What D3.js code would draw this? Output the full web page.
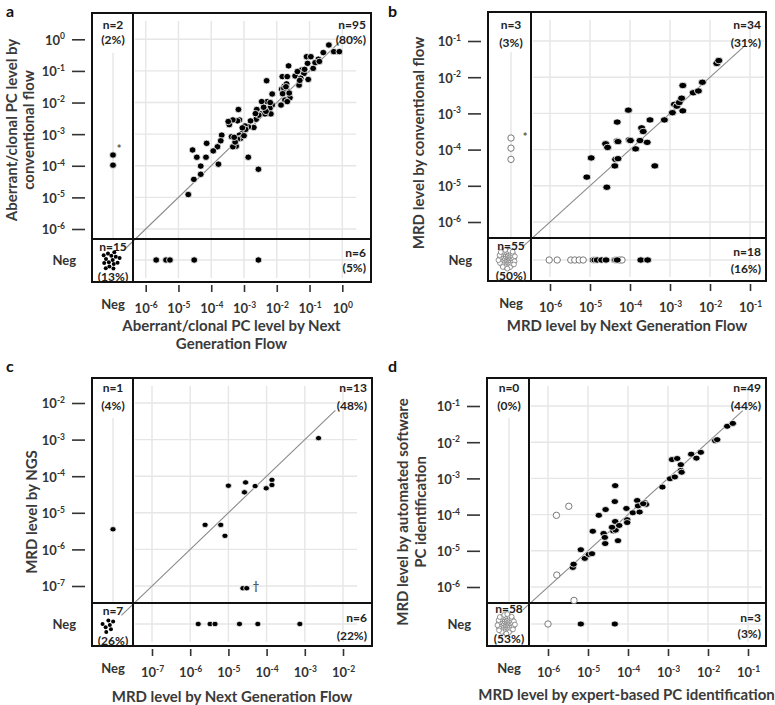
<!DOCTYPE html>
<html><head><meta charset="utf-8">
<script src="https://cdn.jsdelivr.net/npm/d3@7"></script>
<style>
body{margin:0;background:#fff}
svg{display:block}
text{font-family:Lato,"Open Sans",sans-serif}
</style>
</head><body>
<svg id="chart" width="775" height="705"></svg>
<script>
// ---- DATA (log10 values of MRD / PC level) ----
// Panel a
const aBoth = [[-0.41,-0.18],[-0.26,-0.39],[-0.09,-0.39],[-0.58,-0.42],[-0.73,-0.63],[-1.09,-0.55],[-0.96,-0.55],[-1.06,-0.76],[-0.83,-0.74],[-0.89,-0.92],[-1.04,-1.27],[-1.24,-0.97],[-1.17,-1.08],[-1.44,-1.16],[-1.32,-1.45],[-1.27,-1.23],[-1.37,-1.02],[-1.64,-0.84],[-1.83,-1.18],[-1.68,-1.18],[-1.77,-1.48],[-1.70,-1.41],[-1.85,-1.58],[-1.80,-1.66],[-1.68,-1.63],[-1.60,-1.85],[-1.75,-1.92],[-1.87,-2.08],[-1.68,-1.97],[-2.14,-1.73],[-2.31,-1.31],[-2.14,-2.08],[-2.21,-2.18],[-2.18,-2.36],[-2.36,-2.22],[-2.29,-1.97],[-2.46,-1.97],[-2.49,-2.36],[-2.36,-2.36],[-2.61,-2.22],[-2.63,-2.53],[-2.80,-2.58],[-2.70,-2.79],[-2.87,-2.77],[-2.97,-2.74],[-3.04,-2.96],[-3.14,-2.55],[-3.20,-2.58],[-3.34,-2.55],[-3.17,-2.22],[-3.14,-3.03],[-3.10,-3.13],[-3.20,-3.16],[-3.38,-3.08],[-3.24,-3.38],[-3.34,-3.40],[-3.68,-3.03],[-3.71,-3.21],[-3.81,-3.40],[-3.94,-3.53],[-4.14,-3.29],[-4.16,-3.73],[-2.87,-3.73],[-4.44,-3.73],[-4.57,-3.50],[-4.32,-4.01],[-3.78,-3.95],[-2.56,-4.11],[-4.53,-4.43],[-4.32,-4.27],[-4.70,-4.91],[-1.78,-1.55],[-1.72,-1.50],[-1.82,-1.72],[-1.62,-1.70],[-2.33,-2.28],[-2.40,-2.15],[-2.55,-2.40],[-2.95,-2.85],[-3.05,-2.80],[-3.27,-3.25],[-3.30,-3.10],[-3.45,-2.70],[-1.30,-1.30],[-1.15,-0.95],[-0.70,-0.70],[-2.20,-2.00],[-3.00,-3.05],[-2.65,-2.35],[-3.48,-2.60]];
const aNegColY = [-3.66,-3.98];
const aNegRowX = [-5.68,-5.38,-5.26,-4.52,-2.56];
const aNegNegCount = 15;
const aXTicks = [-6,-5,-4,-3,-2,-1,0];
const aYTicks = [0,-1,-2,-3,-4,-5,-6];
const aXTitle = ["Aberrant/clonal PC level by Next","Generation Flow"];
const aYTitle = ["Aberrant/clonal PC level by","conventional flow"];
const aCounts = ["n=2","(2%)","n=95","(80%)","n=15","(13%)","n=6","(5%)"];

// Panel b
const bBoth = [[-5.08,-4.76],[-4.97,-4.23],[-4.61,-3.84],[-4.58,-5.04],[-4.56,-3.94],[-4.38,-4.45],[-4.36,-4.27],[-4.32,-3.76],[-4.32,-3.24],[-4.30,-4.25],[-4.04,-2.91],[-4.02,-3.73],[-3.99,-3.75],[-3.86,-3.98],[-3.75,-3.75],[-3.71,-3.40],[-3.67,-3.50],[-3.57,-3.80],[-3.50,-3.18],[-3.38,-4.45],[-3.14,-3.18],[-2.94,-2.98],[-2.89,-2.75],[-2.83,-2.80],[-2.77,-2.70],[-2.71,-2.58],[-2.68,-2.93],[-2.68,-2.23],[-2.42,-2.43],[-2.29,-2.38],[-2.19,-2.14],[-1.83,-1.62],[-1.78,-1.54],[-4.30,-3.78]];
const bNegColOpenY = [-3.68,-3.96,-4.27];
const bNegRowX = [-4.92,-4.88,-4.82,-4.71,-4.60,-4.38,-4.36,-4.32,-3.73,-3.56];
const bNegRowOpenX = [-6.02,-5.82,-5.48,-5.38,-5.27,-5.17,-4.26,-4.20];
const bNegNegCount = 55;
const bXTicks = [-6,-5,-4,-3,-2,-1];
const bYTicks = [-1,-2,-3,-4,-5,-6];
const bXTitle = ["MRD level by Next Generation Flow"];
const bYTitle = ["MRD level by conventional flow"];
const bCounts = ["n=3","(3%)","n=34","(31%)","n=55","(50%)","n=18","(16%)"];

// Panel c
const cBoth = [[-2.64,-2.96],[-5.00,-4.26],[-5.61,-5.33],[-5.20,-5.33],[-5.09,-5.63],[-4.58,-4.44],[-4.55,-4.17],[-4.30,-4.27],[-4.01,-4.33],[-3.86,-4.10],[-3.86,-4.24],[-4.62,-7.06],[-4.52,-7.06]];
const cNegColY = [-5.45];
const cNegRowX = [-5.79,-5.48,-5.35,-4.71,-4.23,-3.13];
const cNegNegCount = 7;
const cXTicks = [-7,-6,-5,-4,-3,-2];
const cYTicks = [-2,-3,-4,-5,-6,-7];
const cXTitle = ["MRD level by Next Generation Flow"];
const cYTitle = ["MRD level by NGS"];
const cCounts = ["n=1","(4%)","n=13","(48%)","n=7","(26%)","n=6","(22%)"];

// Panel d
const dBoth = [[-5.38,-5.46],[-5.36,-5.37],[-5.18,-4.97],[-5.08,-5.21],[-4.98,-5.10],[-4.90,-5.08],[-4.88,-4.46],[-4.73,-4.02],[-4.61,-4.52],[-4.58,-4.63],[-4.57,-4.80],[-4.56,-3.86],[-4.37,-4.45],[-4.33,-3.64],[-4.32,-3.20],[-4.32,-4.19],[-4.31,-4.43],[-4.25,-4.72],[-4.22,-4.30],[-4.04,-3.83],[-4.02,-4.14],[-4.02,-4.22],[-3.88,-3.95],[-3.77,-3.61],[-3.75,-3.76],[-3.71,-3.93],[-3.58,-3.67],[-3.55,-3.72],[-3.14,-3.24],[-2.95,-3.01],[-2.90,-2.48],[-2.83,-2.96],[-2.77,-2.45],[-2.68,-2.62],[-2.68,-2.78],[-2.66,-2.83],[-2.42,-2.33],[-2.29,-2.44],[-2.18,-2.28],[-1.82,-1.96],[-1.77,-1.93],[-1.52,-1.56],[-1.38,-1.48],[-4.40,-4.35],[-3.62,-3.70]];
const dBothOpen = [[-5.79,-4.02],[-5.48,-3.77],[-5.78,-5.67],[-5.35,-6.37]];
const dNegRowX = [-5.18,-4.33];
const dNegRowOpenX = [-6.0];
const dNegNegCount = 58;
const dXTicks = [-6,-5,-4,-3,-2,-1];
const dYTicks = [-1,-2,-3,-4,-5,-6];
const dXTitle = ["MRD level by expert-based PC identification"];
const dYTitle = ["MRD level by automated software","PC identification"];
const dCounts = ["n=0","(0%)","n=49","(44%)","n=58","(53%)","n=3","(3%)"];

// ---- LAYOUT ----
const panels = [
  {id:"a", lx:6, ly:17, L:92,R:371,T:13,B:282, divX:133, divY:239, negX:113, negY:260,
   xr:[145.7,342.3], yr:[39.3,229], xt:aXTicks, yt:aYTicks, both:aBoth, bothOpen:[],
   negColY:aNegColY, negColOpenY:[], negRowX:aNegRowX, negRowOpenX:[], nn:aNegNegCount, nnOpen:false, nnC:[111,260], nnSpread:2.4,
   diag:[-6.68,0.0], xTitle:aXTitle, xTitleY:[331,349], yTitle:aYTitle, yTitleX:[17,34], yTitleY:130,
   counts:aCounts, cy:[29,44,251,281,257,272], rx:3.4, ry:3.2, mark:{t:"*", x:119, y:153}},
  {id:"b", lx:388, ly:17, L:488,R:766,T:12,B:281, divX:531, divY:238, negX:511, negY:260,
   xr:[550,750], yr:[41,222], xt:bXTicks, yt:bYTicks, both:bBoth, bothOpen:[],
   negColY:[], negColOpenY:bNegColOpenY, negRowX:bNegRowX, negRowOpenX:bNegRowOpenX, nn:bNegNegCount, nnOpen:true, nnC:[507,259], nnSpread:1.2,
   diag:[-6.68,-1.12], xTitle:bXTitle, xTitleY:[331], yTitle:bYTitle, yTitleX:[424], yTitleY:143,
   counts:bCounts, cy:[29,47,250,280,256,273], rx:4.0, ry:3.2, mark:{t:"*", x:525, y:141}},
  {id:"c", lx:6, ly:372, L:92,R:372,T:378,B:646, divX:133, divY:603, negX:113, negY:624,
   xr:[152,343], yr:[403,586], xt:cXTicks, yt:cYTicks, both:cBoth, bothOpen:[],
   negColY:cNegColY, negColOpenY:[], negRowX:cNegRowX, negRowOpenX:[], nn:cNegNegCount, nnOpen:false, nnC:[108,625], nnSpread:2.6,
   diag:[-7.8,-2.2], xTitle:cXTitle, xTitleY:[702], yTitle:cYTitle, yTitleX:[37], yTitleY:512,
   counts:cCounts, cy:[392,410,615,645,622,640], rx:3.1, ry:2.7, mark:{t:"\u2020", x:256, y:590}},
  {id:"d", lx:388, ly:372, L:487,R:766,T:378,B:646, divX:529, divY:603, negX:509, negY:624,
   xr:[548,748], yr:[406,587], xt:dXTicks, yt:dYTicks, both:dBoth, bothOpen:dBothOpen,
   negColY:[], negColOpenY:[], negRowX:dNegRowX, negRowOpenX:dNegRowOpenX, nn:dNegNegCount, nnOpen:true, nnC:[506,624], nnSpread:1.2,
   diag:[-6.63,-1.13], xTitle:dXTitle, xTitleY:[700], yTitle:dYTitle, yTitleX:[408,426], yTitleY:512,
   counts:dCounts, cy:[392,410,613,643,622,638], rx:3.7, ry:3.0, mark:null}
];

const svg = d3.select("#chart");
const TXT = "#333";
const p10 = e => Math.pow(10, e);

function powLabel(sel, e){
  sel.text(null);
  sel.append("tspan").text("10");
  sel.append("tspan").attr("dy",-5.5).attr("font-size",8.5).text(e);
}

panels.forEach(p => {
  const g = svg.append("g");
  const x = d3.scaleLog().domain([p10(p.xt[0]), p10(p.xt[p.xt.length-1])]).range(p.xr);
  const y = d3.scaleLog().domain([p10(p.yt[0]), p10(p.yt[p.yt.length-1])]).range(p.yr);
  const gridRight = p.xr[1] + 14;

  // gridlines
  const grid = g.append("g").attr("stroke","#e6e6e6").attr("stroke-width",1.4);
  p.xt.forEach(t => grid.append("line").attr("x1",x(p10(t))).attr("x2",x(p10(t))).attr("y1",p.T+8).attr("y2",p.B-4));
  p.yt.forEach(t => grid.append("line").attr("y1",y(p10(t))).attr("y2",y(p10(t))).attr("x1",p.divX+2).attr("x2",gridRight));
  grid.append("line").attr("x1",p.negX).attr("x2",p.negX).attr("y1",p.T+40).attr("y2",p.divY);
  grid.append("line").attr("y1",p.negY).attr("y2",p.negY).attr("x1",p.divX+2).attr("x2",gridRight);

  // diagonal identity line
  g.append("line")
    .attr("x1",x(p10(p.diag[0]))).attr("y1",y(p10(p.diag[0])))
    .attr("x2",x(p10(p.diag[1]))).attr("y2",y(p10(p.diag[1])))
    .attr("stroke","#8a8a8a").attr("stroke-width",1.1);

  // frame + dividers
  g.append("rect").attr("x",p.L).attr("y",p.T).attr("width",p.R-p.L).attr("height",p.B-p.T)
    .attr("fill","none").attr("stroke","#111").attr("stroke-width",2);
  g.append("line").attr("x1",p.divX).attr("x2",p.divX).attr("y1",p.T).attr("y2",p.B).attr("stroke","#111").attr("stroke-width",2);
  g.append("line").attr("x1",p.L).attr("x2",p.R).attr("y1",p.divY).attr("y2",p.divY).attr("stroke","#111").attr("stroke-width",2);

  // axes
  const ya = d3.axisLeft(y).tickValues(p.yt.map(p10)).tickSizeInner(13).tickSizeOuter(0).tickPadding(7).tickFormat(() => "");
  const yg = g.append("g").attr("transform",`translate(${p.L-7},0)`).call(ya);
  yg.select(".domain").remove();
  yg.selectAll(".tick line").attr("stroke",TXT).attr("stroke-width",1.6);
  yg.selectAll(".tick text").attr("font-size",13).attr("font-weight",700).attr("fill",TXT).attr("dy","0.38em")
    .each(function(d){ powLabel(d3.select(this), String(Math.round(Math.log10(d)))); });

  const xa = d3.axisBottom(x).tickValues(p.xt.map(p10)).tickSizeInner(7).tickSizeOuter(0).tickPadding(12).tickFormat(() => "");
  const xg = g.append("g").attr("transform",`translate(0,${p.B+3})`).call(xa);
  xg.select(".domain").remove();
  xg.selectAll(".tick line").attr("stroke",TXT).attr("stroke-width",1.6);
  xg.selectAll(".tick text").attr("font-size",13).attr("font-weight",700).attr("fill",TXT).attr("dy","0.71em")
    .each(function(d){ powLabel(d3.select(this), String(Math.round(Math.log10(d)))); });

  // Neg labels
  g.append("text").attr("x",p.L-16).attr("y",p.negY+5).attr("text-anchor","end").attr("font-size",13).attr("font-weight",700).attr("fill",TXT).text("Neg");
  g.append("text").attr("x",p.negX).attr("y",p.B+27).attr("text-anchor","middle").attr("font-size",13).attr("font-weight",700).attr("fill",TXT).text("Neg");

  // points
  const filled = (cx,cy,rx,ry) => g.append("ellipse").attr("cx",cx).attr("cy",cy).attr("rx",rx).attr("ry",ry)
      .attr("fill","#000").attr("stroke","#fff").attr("stroke-width",0.8);
  const open = (cx,cy,r) => g.append("circle").attr("cx",cx).attr("cy",cy).attr("r",r)
      .attr("fill","#fff").attr("stroke","#7a7a7a").attr("stroke-width",1);

  p.bothOpen.forEach(d => open(x(p10(d[0])), y(p10(d[1])), 3.2));
  p.negRowOpenX.forEach(v => open(x(p10(v)), p.negY, 3.2));
  p.negColOpenY.forEach(v => open(p.negX, y(p10(v)), 3.2));
  p.both.forEach(d => filled(x(p10(d[0])), y(p10(d[1])), p.rx, p.ry));
  p.negRowX.forEach(v => filled(x(p10(v)), p.negY, p.rx, p.ry));
  p.negColY.forEach(v => filled(p.negX, y(p10(v)), p.rx, p.ry));

  // Neg/Neg cluster (deterministic sunflower packing of the count)
  d3.range(p.nn).forEach(i => {
    const r = p.nnSpread * Math.sqrt(i + 0.5), th = i * 2.39996;
    const cx = p.nnC[0] + r * Math.cos(th), cy = p.nnC[1] + r * Math.sin(th) * 1.1;
    if (p.nnOpen) open(cx, cy, 2.4).attr("stroke-width",0.8);
    else g.append("circle").attr("cx",cx).attr("cy",cy).attr("r",2.0).attr("fill","#000");
  });

  // count labels
  const cl = (t,xx,yy,anc) => g.append("text").attr("x",xx).attr("y",yy).attr("text-anchor",anc)
      .attr("font-size",12).attr("font-weight",700).attr("fill","#222").text(t);
  cl(p.counts[0], p.negX, p.cy[0], "middle");
  cl(p.counts[1], p.negX, p.cy[1], "middle");
  cl(p.counts[2], p.R-5, p.cy[0], "end");
  cl(p.counts[3], p.R-5, p.cy[1], "end");
  cl(p.counts[4], p.negX, p.cy[2], "middle");
  cl(p.counts[5], p.negX, p.cy[3], "middle");
  cl(p.counts[6], p.R-5, p.cy[4], "end");
  cl(p.counts[7], p.R-5, p.cy[5], "end");

  // axis titles
  p.xTitle.forEach((t,i) => g.append("text").attr("x",(p.L+p.R)/2).attr("y",p.xTitleY[i]).attr("text-anchor","middle")
    .attr("font-size",15).attr("font-weight",700).attr("fill","#3a3a3a").text(t));
  p.yTitle.forEach((t,i) => g.append("text").attr("transform",`translate(${p.yTitleX[i]},${p.yTitleY}) rotate(-90)`)
    .attr("text-anchor","middle").attr("font-size",15).attr("font-weight",700).attr("fill","#3a3a3a").text(t));

  // panel letter
  g.append("text").attr("x",p.lx).attr("y",p.ly).attr("font-size",16).attr("font-weight",700).attr("fill","#111").text(p.id);

  if (p.mark) g.append("text").attr("x",p.mark.x).attr("y",p.mark.y).attr("text-anchor","middle")
      .attr("font-family","DejaVu Sans").attr("font-size",11).attr("font-weight",700).attr("fill","#555").text(p.mark.t);
});
</script>
</body></html>
